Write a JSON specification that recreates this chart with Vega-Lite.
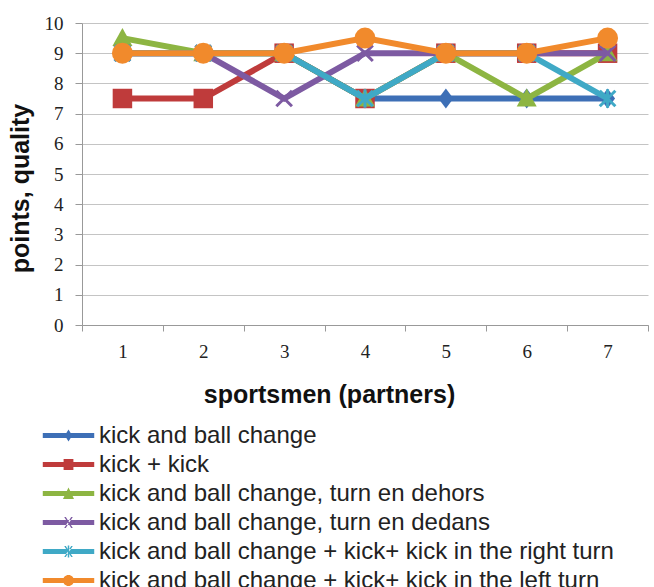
{
  "$schema": "https://vega.github.io/schema/vega-lite/v6.json",
  "width": 566,
  "height": 302,
  "autosize": "none",
  "padding": {"left": 82, "top": 23, "right": 6, "bottom": 262},
  "background": "white",
  "config": {"view": {"stroke": null}},
  "data": {
    "values": [
      {"series": "kick and ball change", "sportsman": 1, "points": 9},
      {"series": "kick and ball change", "sportsman": 2, "points": 9},
      {"series": "kick and ball change", "sportsman": 3, "points": 9},
      {"series": "kick and ball change", "sportsman": 4, "points": 7.5},
      {"series": "kick and ball change", "sportsman": 5, "points": 7.5},
      {"series": "kick and ball change", "sportsman": 6, "points": 7.5},
      {"series": "kick and ball change", "sportsman": 7, "points": 7.5},
      {"series": "kick + kick", "sportsman": 1, "points": 7.5},
      {"series": "kick + kick", "sportsman": 2, "points": 7.5},
      {"series": "kick + kick", "sportsman": 3, "points": 9},
      {"series": "kick + kick", "sportsman": 4, "points": 7.5},
      {"series": "kick + kick", "sportsman": 5, "points": 9},
      {"series": "kick + kick", "sportsman": 6, "points": 9},
      {"series": "kick + kick", "sportsman": 7, "points": 9},
      {"series": "kick and ball change, turn en dehors", "sportsman": 1, "points": 9.5},
      {"series": "kick and ball change, turn en dehors", "sportsman": 2, "points": 9},
      {"series": "kick and ball change, turn en dehors", "sportsman": 3, "points": 9},
      {"series": "kick and ball change, turn en dehors", "sportsman": 4, "points": 7.5},
      {"series": "kick and ball change, turn en dehors", "sportsman": 5, "points": 9},
      {"series": "kick and ball change, turn en dehors", "sportsman": 6, "points": 7.5},
      {"series": "kick and ball change, turn en dehors", "sportsman": 7, "points": 9},
      {"series": "kick and ball change, turn en dedans", "sportsman": 1, "points": 9},
      {"series": "kick and ball change, turn en dedans", "sportsman": 2, "points": 9},
      {"series": "kick and ball change, turn en dedans", "sportsman": 3, "points": 7.5},
      {"series": "kick and ball change, turn en dedans", "sportsman": 4, "points": 9},
      {"series": "kick and ball change, turn en dedans", "sportsman": 5, "points": 9},
      {"series": "kick and ball change, turn en dedans", "sportsman": 6, "points": 9},
      {"series": "kick and ball change, turn en dedans", "sportsman": 7, "points": 9},
      {"series": "kick and ball change + kick+ kick in the right turn", "sportsman": 1, "points": 9},
      {"series": "kick and ball change + kick+ kick in the right turn", "sportsman": 2, "points": 9},
      {"series": "kick and ball change + kick+ kick in the right turn", "sportsman": 3, "points": 9},
      {"series": "kick and ball change + kick+ kick in the right turn", "sportsman": 4, "points": 7.5},
      {"series": "kick and ball change + kick+ kick in the right turn", "sportsman": 5, "points": 9},
      {"series": "kick and ball change + kick+ kick in the right turn", "sportsman": 6, "points": 9},
      {"series": "kick and ball change + kick+ kick in the right turn", "sportsman": 7, "points": 7.5},
      {"series": "kick and ball change + kick+ kick in the left turn", "sportsman": 1, "points": 9},
      {"series": "kick and ball change + kick+ kick in the left turn", "sportsman": 2, "points": 9},
      {"series": "kick and ball change + kick+ kick in the left turn", "sportsman": 3, "points": 9},
      {"series": "kick and ball change + kick+ kick in the left turn", "sportsman": 4, "points": 9.5},
      {"series": "kick and ball change + kick+ kick in the left turn", "sportsman": 5, "points": 9},
      {"series": "kick and ball change + kick+ kick in the left turn", "sportsman": 6, "points": 9},
      {"series": "kick and ball change + kick+ kick in the left turn", "sportsman": 7, "points": 9.5}
    ]
  },
  "encoding": {
    "x": {
      "field": "sportsman", "type": "ordinal",
      "scale": {"type": "band", "paddingInner": 0, "paddingOuter": 0},
      "axis": {
        "title": "sportsmen (partners)", "labelAngle": 0, "labelFont": "Liberation Serif", "labelFontSize": 19, "labelColor": "#222", "labelPadding": 11,
        "titleFont": "Liberation Sans", "titleFontSize": 25, "titleFontWeight": "bold", "titleColor": "#111",
        "titleX": 247, "titleY": 77, "titleBaseline": "alphabetic", "titleAnchor": "middle", "titleAlign": "center",
        "tickBand": "extent", "tickSize": 6, "tickColor": "#999", "domainColor": "#999", "grid": false
      }
    },
    "y": {
      "field": "points", "type": "quantitative",
      "scale": {"domain": [0, 10], "nice": false},
      "axis": {
        "title": "points, quality", "values": [0,1,2,3,4,5,6,7,8,9,10],
        "labelFont": "Liberation Serif", "labelFontSize": 19, "labelColor": "#222", "labelPadding": 12,
        "titleFont": "Liberation Sans", "titleFontSize": 25, "titleFontWeight": "bold", "titleColor": "#111",
        "titleX": -54, "titleY": 165, "titleBaseline": "alphabetic", "titleAlign": "center", "titleAngle": -90,
        "tickSize": 7, "tickColor": "#999", "domainColor": "#999", "gridColor": "#c4c4c4"
      }
    },
    "color": {
      "field": "series", "type": "nominal",
      "scale": {
        "domain": ["kick and ball change", "kick + kick", "kick and ball change, turn en dehors", "kick and ball change, turn en dedans", "kick and ball change + kick+ kick in the right turn", "kick and ball change + kick+ kick in the left turn"],
        "range": ["#3d6fb6", "#bf3b3b", "#8db542", "#7d5aa2", "#3fa9c6", "#f18a2c"]
      },
      "legend": {
        "title": null, "orient": "none", "legendX": -40, "legendY": 400, "direction": "vertical",
        "labelFont": "Liberation Sans", "labelFontSize": 24, "labelColor": "#222", "labelLimit": 700,
        "symbolSize": 600, "labelOffset": 18, "rowPadding": 4, "symbolOffset": 14,
        "encode": {
          "symbols": {
            "update": {
              "shape": {"signal": "datum.value === 'kick and ball change' ? 'M-2.1,-0.2H2.1V0.2H-2.1Z M0,-0.5L0.3,0L0,0.5L-0.3,0Z' : datum.value === 'kick + kick' ? 'M-2.1,-0.2H2.1V0.2H-2.1Z M-0.4,-0.45H0.4V0.45H-0.4Z' : datum.value === 'kick and ball change, turn en dehors' ? 'M-2.1,-0.2H2.1V0.2H-2.1Z M0,-0.5L0.45,0.45H-0.45Z' : datum.value === 'kick and ball change, turn en dedans' ? 'M-2.1,-0.2H2.1V0.2H-2.1Z M-0.35,-0.45L-0.22,-0.45L0.35,0.45L0.22,0.45Z M0.35,-0.45L0.22,-0.45L-0.35,0.45L-0.22,0.45Z' : datum.value === 'kick and ball change + kick+ kick in the right turn' ? 'M-2.1,-0.2H2.1V0.2H-2.1Z M-0.35,-0.45L-0.22,-0.45L0.35,0.45L0.22,0.45Z M0.35,-0.45L0.22,-0.45L-0.35,0.45L-0.22,0.45Z M-0.06,-0.5H0.06V0.5H-0.06Z' : 'M-2.1,-0.2H2.1V0.2H-2.1Z M0.45,0A0.45,0.45,0,1,1,-0.45,0A0.45,0.45,0,1,1,0.45,0Z'"},
              "fill": {"scale": "color", "field": "value"},
              "fillOpacity": {"value": 1},
              "opacity": {"value": 1},
              "strokeWidth": {"value": 0}
            }
          }
        }
      }
    }
  },
  "layer": [
    {"transform": [{"filter": {"field": "series", "equal": "kick and ball change"}}], "mark": {"type": "line", "strokeWidth": 6}},
    {"transform": [{"filter": {"field": "series", "equal": "kick and ball change"}}], "mark": {"type": "point", "filled": true, "opacity": 1, "size": 400, "shape": "M0,-1L0.75,0L0,1L-0.75,0Z"}},
    {"transform": [{"filter": {"field": "series", "equal": "kick + kick"}}], "mark": {"type": "line", "strokeWidth": 6}},
    {"transform": [{"filter": {"field": "series", "equal": "kick + kick"}}], "mark": {"type": "point", "filled": true, "opacity": 1, "size": 380, "shape": "square"}},
    {"transform": [{"filter": {"field": "series", "equal": "kick and ball change, turn en dehors"}}], "mark": {"type": "line", "strokeWidth": 6}},
    {"transform": [{"filter": {"field": "series", "equal": "kick and ball change, turn en dehors"}}], "mark": {"type": "point", "filled": true, "opacity": 1, "size": 400, "shape": "M0,-1L1,0.8H-1Z"}},
    {"transform": [{"filter": {"field": "series", "equal": "kick and ball change, turn en dedans"}}], "mark": {"type": "line", "strokeWidth": 6}},
    {"transform": [{"filter": {"field": "series", "equal": "kick and ball change, turn en dedans"}}], "mark": {"type": "point", "filled": false, "opacity": 1, "size": 380, "strokeWidth": 3, "shape": "M-0.8,-0.8L0.8,0.8M0.8,-0.8L-0.8,0.8"}},
    {"transform": [{"filter": {"field": "series", "equal": "kick and ball change + kick+ kick in the right turn"}}], "mark": {"type": "line", "strokeWidth": 6}},
    {"transform": [{"filter": {"field": "series", "equal": "kick and ball change + kick+ kick in the right turn"}}], "mark": {"type": "point", "filled": false, "opacity": 1, "size": 380, "strokeWidth": 3, "shape": "M-0.8,-0.8L0.8,0.8M0.8,-0.8L-0.8,0.8M0,-0.95L0,0.95"}},
    {"transform": [{"filter": {"field": "series", "equal": "kick and ball change + kick+ kick in the left turn"}}], "mark": {"type": "line", "strokeWidth": 6}},
    {"transform": [{"filter": {"field": "series", "equal": "kick and ball change + kick+ kick in the left turn"}}], "mark": {"type": "point", "filled": true, "opacity": 1, "size": 440, "shape": "circle"}}
  ]
}
